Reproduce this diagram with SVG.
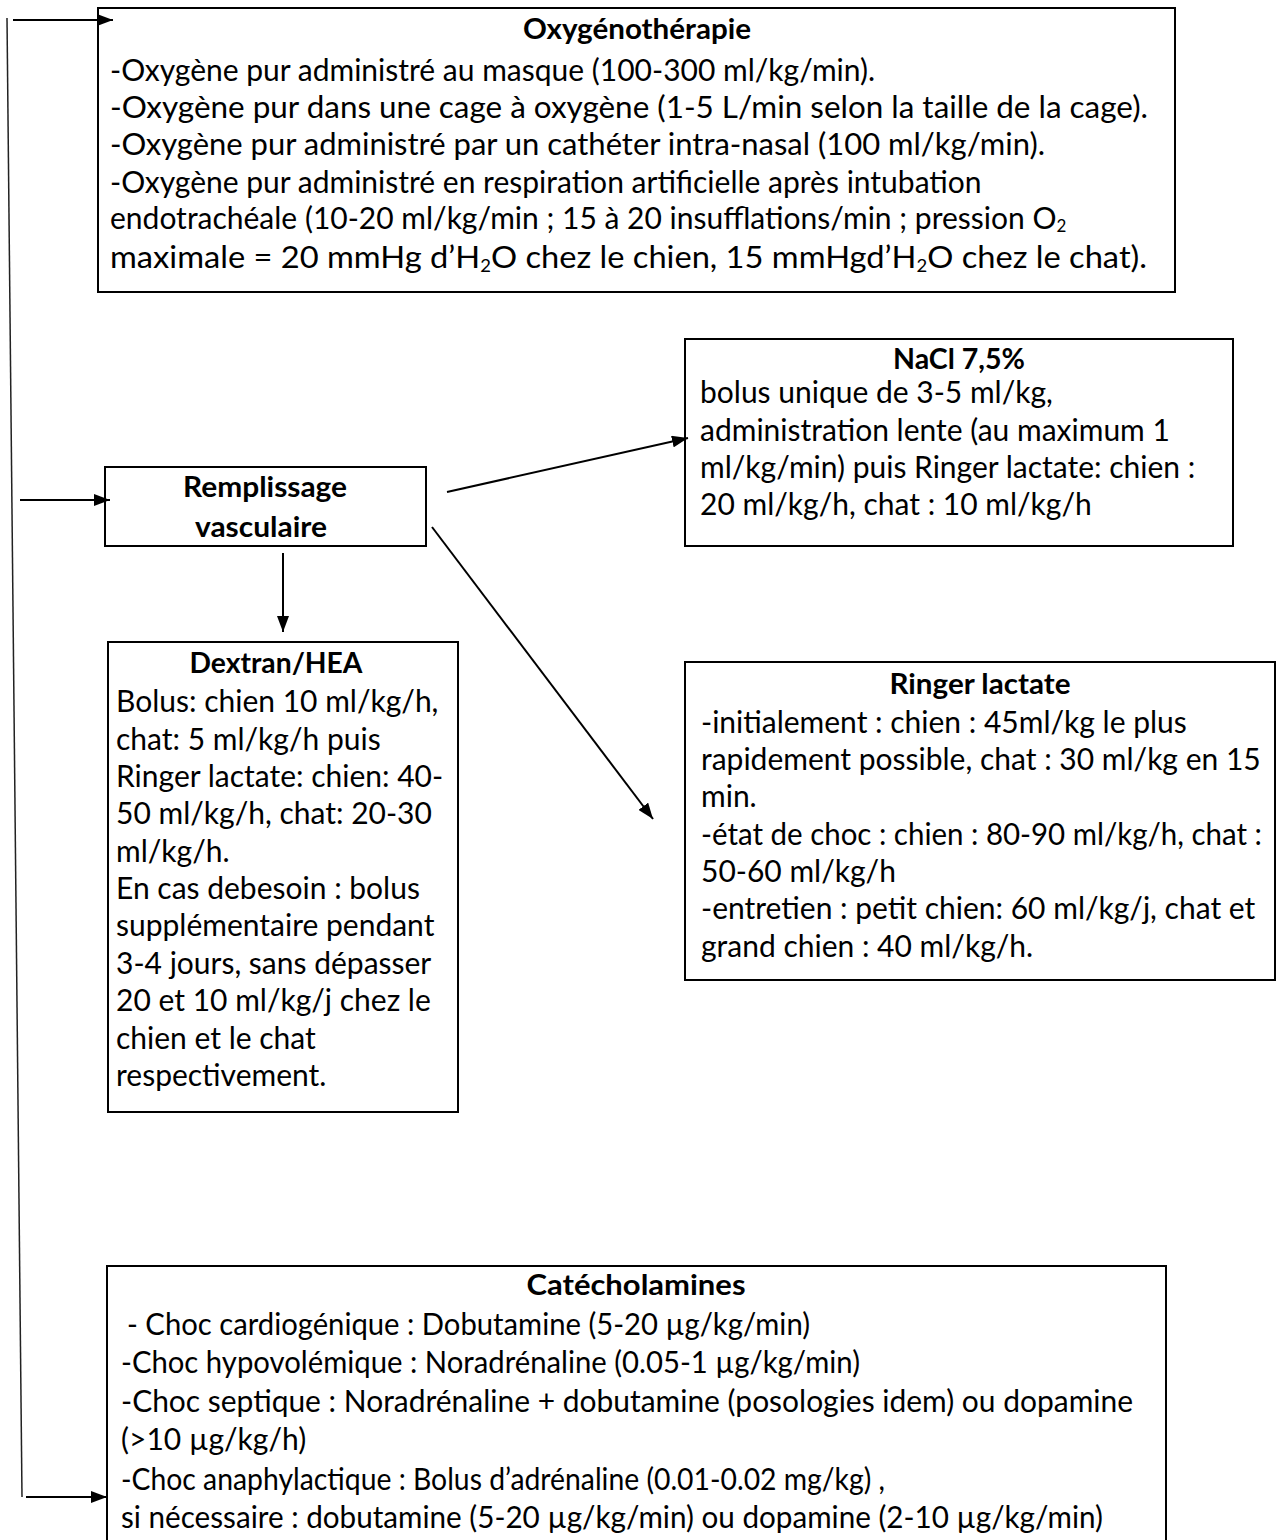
<svg xmlns="http://www.w3.org/2000/svg" width="1277" height="1540" viewBox="0 0 1277 1540">
<style>
.box{fill:#fff;stroke:#000;stroke-width:2}
.t{font-family:Lato,"Liberation Sans",sans-serif;font-size:30px;fill:#000}
.b{font-weight:bold;text-anchor:middle;font-size:29px}
.c{stroke:#000;stroke-width:2;fill:none}
.sub{font-size:17px}
</style>
<defs>
<marker id="ah" viewBox="0 0 16 12" refX="16" refY="6" markerWidth="16" markerHeight="12" markerUnits="userSpaceOnUse" orient="auto">
<path d="M0,0 L16,6 L0,12 Z" fill="#000"/>
</marker>
</defs>
<rect width="1277" height="1540" fill="#fff"/>

<g id="oxygenotherapie">
<rect class="box" x="98" y="8" width="1077" height="284"/>
<text class="t b" x="637" y="39" textLength="228" lengthAdjust="spacingAndGlyphs">Oxygénothérapie</text>
<text class="t" x="110" y="81">-Oxygène pur administré au masque (100-300 ml/kg/min).</text>
<text class="t" x="110" y="118" textLength="1038" lengthAdjust="spacingAndGlyphs">-Oxygène pur dans une cage à oxygène (1-5 L/min selon la taille de la cage).</text>
<text class="t" x="110" y="155" textLength="935" lengthAdjust="spacingAndGlyphs">-Oxygène pur administré par un cathéter intra-nasal (100 ml/kg/min).</text>
<text class="t" x="110" y="193">-Oxygène pur administré en respiration artificielle après intubation</text>
<text class="t" x="110" y="229">endotrachéale (10-20 ml/kg/min ; 15 à 20 insufflations/min ; pression O<tspan class="sub" dy="3">2</tspan></text>
<text class="t" x="110" y="268" textLength="1037" lengthAdjust="spacingAndGlyphs">maximale = 20 mmHg d’H<tspan class="sub" dy="4">2</tspan><tspan dy="-4">O chez le chien, 15 mmHgd’H</tspan><tspan class="sub" dy="4">2</tspan><tspan dy="-4">O chez le chat).</tspan></text>
</g>

<g id="remplissage">
<rect class="box" x="105" y="467" width="321" height="79"/>
<text class="t b" x="265" y="497" textLength="164" lengthAdjust="spacingAndGlyphs">Remplissage</text>
<text class="t b" x="261" y="537" textLength="132" lengthAdjust="spacingAndGlyphs">vasculaire</text>
</g>

<g id="nacl">
<rect class="box" x="685" y="339" width="548" height="207"/>
<text class="t b" x="959" y="369" textLength="132" lengthAdjust="spacingAndGlyphs">NaCl 7,5%</text>
<text class="t" x="700" y="403">bolus unique de 3-5 ml/kg,</text>
<text class="t" x="700" y="441">administration lente (au maximum 1</text>
<text class="t" x="700" y="478">ml/kg/min) puis Ringer lactate: chien :</text>
<text class="t" x="700" y="515">20 ml/kg/h, chat : 10 ml/kg/h</text>
</g>

<g id="dextran">
<rect class="box" x="108" y="642" width="350" height="470"/>
<text class="t b" x="276" y="673" textLength="173" lengthAdjust="spacingAndGlyphs">Dextran/HEA</text>
<text class="t" x="116" y="712">Bolus: chien 10 ml/kg/h,</text>
<text class="t" x="116" y="750">chat: 5 ml/kg/h puis</text>
<text class="t" x="116" y="787">Ringer lactate: chien: 40-</text>
<text class="t" x="116" y="824">50 ml/kg/h, chat: 20-30</text>
<text class="t" x="116" y="862">ml/kg/h.</text>
<text class="t" x="116" y="899">En cas debesoin : bolus</text>
<text class="t" x="116" y="936">supplémentaire pendant</text>
<text class="t" x="116" y="974">3-4 jours, sans dépasser</text>
<text class="t" x="116" y="1011">20 et 10 ml/kg/j chez le</text>
<text class="t" x="116" y="1049">chien et le chat</text>
<text class="t" x="116" y="1086">respectivement.</text>
</g>

<g id="ringer">
<rect class="box" x="685" y="662" width="590" height="318"/>
<text class="t b" x="980" y="694" textLength="181" lengthAdjust="spacingAndGlyphs">Ringer lactate</text>
<text class="t" x="701" y="733">-initialement : chien : 45ml/kg le plus</text>
<text class="t" x="701" y="770">rapidement possible, chat : 30 ml/kg en 15</text>
<text class="t" x="701" y="807">min.</text>
<text class="t" x="701" y="845" textLength="561" lengthAdjust="spacingAndGlyphs">-état de choc : chien : 80-90 ml/kg/h, chat :</text>
<text class="t" x="701" y="882">50-60 ml/kg/h</text>
<text class="t" x="701" y="919">-entretien : petit chien: 60 ml/kg/j, chat et</text>
<text class="t" x="701" y="957">grand chien : 40 ml/kg/h.</text>
</g>

<g id="catecholamines">
<rect class="box" x="107" y="1266" width="1059" height="290"/>
<text class="t b" x="636" y="1295" textLength="219" lengthAdjust="spacingAndGlyphs">Catécholamines</text>
<text class="t" x="127" y="1335" textLength="683" lengthAdjust="spacingAndGlyphs">- Choc cardiogénique : Dobutamine (5-20 µg/kg/min)</text>
<text class="t" x="121" y="1373" textLength="739" lengthAdjust="spacingAndGlyphs">-Choc hypovolémique : Noradrénaline (0.05-1 µg/kg/min)</text>
<text class="t" x="121" y="1412" textLength="1012" lengthAdjust="spacingAndGlyphs">-Choc septique : Noradrénaline + dobutamine (posologies idem) ou dopamine</text>
<text class="t" x="121" y="1450">(&gt;10 µg/kg/h)</text>
<text class="t" x="121" y="1490" textLength="764" lengthAdjust="spacingAndGlyphs">-Choc anaphylactique : Bolus d’adrénaline (0.01-0.02 mg/kg) ,</text>
<text class="t" x="121" y="1528" textLength="982" lengthAdjust="spacingAndGlyphs">si nécessaire : dobutamine (5-20 µg/kg/min) ou dopamine (2-10 µg/kg/min)</text>
</g>

<g id="connectors">
<line x1="7" y1="18" x2="22" y2="1497" stroke="#222" stroke-width="1.5"/>
<line class="c" x1="13" y1="20" x2="113" y2="20" marker-end="url(#ah)"/>
<line class="c" x1="20" y1="500" x2="110" y2="500" marker-end="url(#ah)"/>
<line class="c" x1="26" y1="1497" x2="107" y2="1497" marker-end="url(#ah)"/>
<line class="c" x1="283" y1="553" x2="283" y2="632" marker-end="url(#ah)"/>
<line class="c" x1="447" y1="492" x2="688" y2="438" marker-end="url(#ah)"/>
<line class="c" x1="432" y1="527" x2="653" y2="819" marker-end="url(#ah)"/>
</g>
</svg>
